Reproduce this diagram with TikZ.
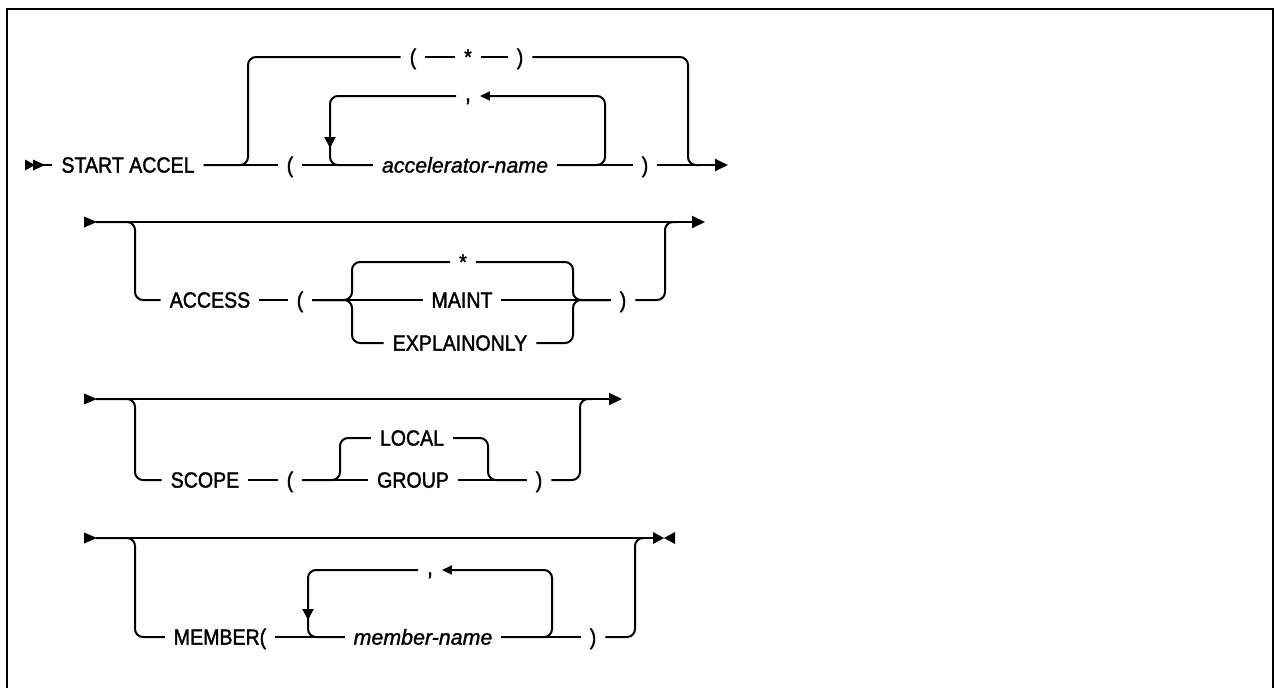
\documentclass[tikz,border=0pt]{standalone}
\usepackage{fontspec}
\setmainfont{Liberation Sans}[FakeBold=1.6]
\newfontfamily\narrowsf{Liberation Sans}[FakeStretch=0.89,FakeBold=1.6]
\newfontfamily\italsf{Liberation Sans Italic}[FakeBold=1.3]
\usetikzlibrary{arrows.meta}
\begin{document}
\begin{tikzpicture}[x=0.5pt,y=-0.5pt,line width=1pt,
  lbl/.style={inner xsep=4pt,inner ysep=0pt,text height=7.6pt,text depth=0pt,font=\fontsize{11}{12}\narrowsf},
  var/.style={lbl,font=\fontsize{10.7}{12}\italsf},
  cma/.style={lbl,text height=5pt,font=\fontsize{12}{12}\narrowsf},
  rc/.style={rounded corners=4pt},
  endarr/.style={-{Triangle[length=6.5pt,width=6pt]}},
  backarr/.style={-{Triangle[length=5pt,width=4.5pt]}},
  downarr/.style={-{Triangle[length=5.5pt,width=5.5pt]}},
  frame/.style={line width=1.2pt}]
\useasboundingbox (0,0) rectangle (1275,687);
\draw[frame] (7,690) -- (7,9) -- (1273,9) -- (1273,690);

% ---------- row 1 ----------
\fill (25,159.5) -- (35,165) -- (25,170.5) -- cycle;
\fill (33,159.5) -- (45,165) -- (33,170.5) -- cycle;
\coordinate (s1) at (42,165);
\coordinate (e1) at (728,165);
\node[lbl] (sa) at (128,165) {START ACCEL};
\node[lbl] (p1) at (290,165) {(};
\node[var] (acc) at (465,165) {accelerator-name};
\node[lbl] (q1) at (645,165) {)};
\node[lbl] (tp) at (413,57) {(};
\node[lbl] (ts) at (468,57) {*};
\node[lbl] (tq) at (520,57) {)};
\node[cma] (c1) at (468,96) {,};
\draw (s1) -- (sa.west);
\draw (sa.east) -- (p1.west);
\draw[rc] (sa.east) -| (248,57) -- (tp.west);
\draw (tp.east) -- (ts.west);
\draw (ts.east) -- (tq.west);
\draw[rc] (tq.east) -| (688,165) -- (700,165);
\draw (p1.east) -- (acc.west);
\draw[rc] (c1.west) -| (330,165) -- (acc.west);
\draw[downarr] (330,125) -- (330,148);
\draw[rc,backarr] (acc.east) -| (605,96) -- (c1.east);
\draw (acc.east) -- (q1.west);
\draw[endarr] (q1.east) -- (e1);

% ---------- row 2 ----------
\fill (84,216.5) -- (97,222) -- (84,227.5) -- cycle;
\coordinate (s2) at (96,222);
\coordinate (e2) at (705,222);
\node[lbl] (ac) at (210,300) {ACCESS};
\node[lbl] (p2) at (300,300) {(};
\node[lbl] (st2) at (463,262) {*};
\node[lbl] (mt) at (462,300) {MAINT};
\node[lbl] (ex) at (460,343) {EXPLAINONLY};
\node[lbl] (q2) at (623,300) {)};
\draw[endarr] (s2) -- (e2);
\draw[rc] (s2) -| (135,300) -- (ac.west);
\draw (ac.east) -- (p2.west);
\draw (p2.east) -- (mt.west);
\draw[rc] (p2.east) -| (352,262) -- (st2.west);
\draw[rc] (p2.east) -| (352,343) -- (ex.west);
\draw (mt.east) -- (q2.west);
\draw[rc] (st2.east) -| (573,300) -- (q2.west);
\draw[rc] (ex.east) -| (573,300) -- (q2.west);
\draw[rc] (q2.east) -| (665,222) -- (677,222);

% ---------- row 3 ----------
\fill (84,393.5) -- (97,399) -- (84,404.5) -- cycle;
\coordinate (s3) at (96,399);
\coordinate (e3) at (622,399);
\node[lbl] (sc) at (205,480) {SCOPE};
\node[lbl] (p3) at (290,480) {(};
\node[lbl] (lo) at (412,438) {LOCAL};
\node[lbl] (gr) at (413,480) {GROUP};
\node[lbl] (q3) at (539,480) {)};
\draw[endarr] (s3) -- (e3);
\draw[rc] (s3) -| (135,480) -- (sc.west);
\draw (sc.east) -- (p3.west);
\draw (p3.east) -- (gr.west);
\draw[rc] (p3.east) -| (340,438) -- (lo.west);
\draw (gr.east) -- (q3.west);
\draw[rc] (lo.east) -| (488,480) -- (q3.west);
\draw[rc] (q3.east) -| (580,399) -- (592,399);

% ---------- row 4 ----------
\fill (84,532.5) -- (97,538) -- (84,543.5) -- cycle;
\coordinate (s4) at (96,538);
\coordinate (e4) at (654,538);
\node[lbl] (mb) at (220,637) {MEMBER(};
\node[var] (mn) at (423,637) {member-name};
\node[cma] (c4) at (430,570) {,};
\node[lbl] (q4) at (593,637) {)};
\draw (s4) -- (e4);
\fill (653,532) -- (664,538) -- (653,544) -- cycle;
\fill (675,532) -- (664,538) -- (675,544) -- cycle;
\draw[rc] (s4) -| (135,637) -- (mb.west);
\draw (mb.east) -- (mn.west);
\draw[rc] (c4.west) -| (308,637) -- (mn.west);
\draw[downarr] (308,595) -- (308,620);
\draw[rc,backarr] (mn.east) -| (552,570) -- (c4.east);
\draw (mn.east) -- (q4.west);
\draw[rc] (q4.east) -| (635,538) -- (645,538);
\end{tikzpicture}
\end{document}
